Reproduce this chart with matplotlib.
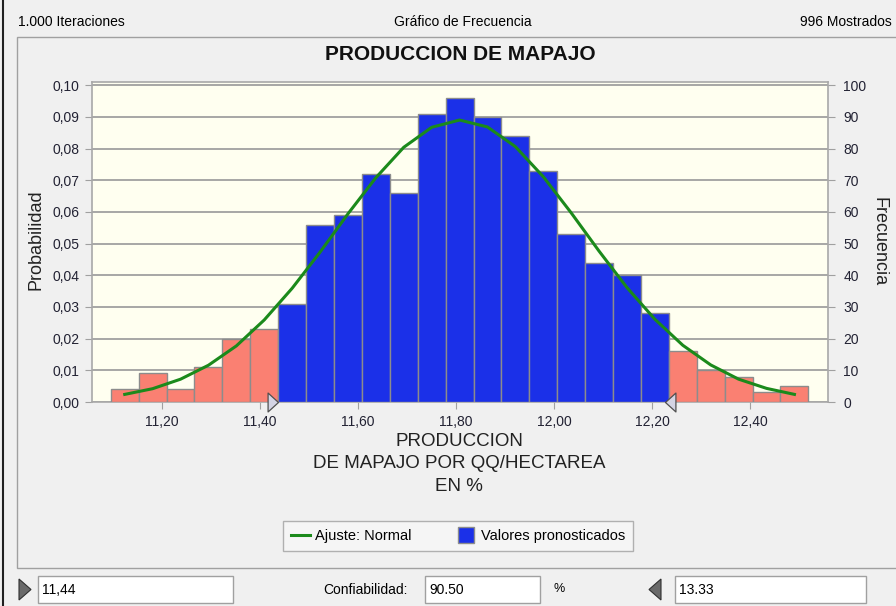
import numpy as np
import matplotlib
matplotlib.use("Agg")
import matplotlib.pyplot as plt
from matplotlib.lines import Line2D
from matplotlib.patches import Rectangle, Polygon
from matplotlib.path import Path

# ---------------- data ----------------
bin_low = 11.0953
bin_high = 12.519
counts = [4, 9, 4, 11, 20, 23, 31, 56, 59, 72, 66, 91, 96, 90, 84, 73, 53, 44, 40, 28, 16, 10, 8, 3, 5]
fit_counts = [2.4, 4.2, 7.2, 11.6, 17.7, 25.9, 35.9, 47.3, 59.4, 70.8, 80.4, 86.7, 89.0,
              86.8, 80.6, 71.1, 59.7, 47.6, 36.1, 26.1, 17.9, 11.7, 7.2, 4.3, 2.4]
lower_cert = 11.44
upper_cert = 12.235
iterations = 1000
x_ticks = [11.2, 11.4, 11.6, 11.8, 12.0, 12.2, 12.4]
prob_ticks = [0.00, 0.01, 0.02, 0.03, 0.04, 0.05, 0.06, 0.07, 0.08, 0.09, 0.10]
freq_ticks = [0, 10, 20, 30, 40, 50, 60, 70, 80, 90, 100]

W, H = 896, 606
FONT = ["Liberation Sans", "DejaVu Sans"]
plt.rcParams["font.family"] = FONT

def fx(px):
    return px / W

def fy(py):
    return 1 - py / H

fig = plt.figure(figsize=(W / 100, H / 100), dpi=100, facecolor="#f0f0f0")

# window frame / panel
fig.add_artist(Rectangle((fx(2.5), 0), 0, 1, transform=fig.transFigure, lw=1.5,
                         edgecolor="#202020", facecolor="none"))
fig.add_artist(Rectangle((fx(17), fy(568)), fx(900) - fx(17), fy(37) - fy(568),
                         transform=fig.transFigure, lw=1.0, edgecolor="#a0a0a0",
                         facecolor="#f0f0f0", zorder=0))

# header
fig.text(fx(18), fy(22), "1.000 Iteraciones", fontsize=10, va="center", ha="left")
fig.text(fx(463), fy(22), "Gráfico de Frecuencia", fontsize=10, va="center", ha="center")
fig.text(fx(892), fy(22), f"{sum(counts)} Mostrados", fontsize=10, va="center", ha="right")
fig.text(fx(460), fy(55), "PRODUCCION DE MAPAJO", fontsize=15, fontweight="bold",
         va="center", ha="center", color="#111111")

# axes
ax = fig.add_axes([fx(92), fy(402), fx(828) - fx(92), fy(82) - fy(402)])
ax.set_facecolor("#fffff0")
edges = np.linspace(bin_low, bin_high, len(counts) + 1)
centers = (edges[:-1] + edges[1:]) / 2
bw = edges[1] - edges[0]
ax.set_xlim(11.057, 12.559)
ax.set_ylim(0, 0.101)
ax.set_yticks(prob_ticks)
ax.set_yticklabels([f"{v:.2f}".replace(".", ",") for v in prob_ticks])
ax.set_xticks(x_ticks)
ax.set_xticklabels([f"{v:.2f}".replace(".", ",") for v in x_ticks])
ax.yaxis.grid(True, color="#a0a0a0", lw=1.3)
ax.set_axisbelow(True)
for s in ax.spines.values():
    s.set_color("#a8a8a8")
    s.set_linewidth(1.2)
ax.tick_params(axis="both", direction="out", length=5, color="#a0a0a0",
               labelsize=10, labelcolor="#222233", pad=4)

ax2 = ax.twinx()
ax2.set_ylim(0, iterations * 0.101)
ax2.set_yticks(freq_ticks)
ax2.tick_params(axis="y", direction="out", length=5, color="#a0a0a0",
                labelsize=10, labelcolor="#222233", pad=6)
for s in ax2.spines.values():
    s.set_visible(False)

colors = ["#1b30e8" if (c > lower_cert and c < upper_cert) else "#fa8072" for c in centers]
ax2.bar(centers, counts, width=bw, color=colors, edgecolor="#8c8c8c", lw=1.0, zorder=2)
ax2.plot(centers, fit_counts, color="#1b8a1b", lw=2.2, zorder=3)

# certainty grabbers
right_tri = Path([(0, 0), (-1.1, 1), (-1.1, -1), (0, 0)],
                 [Path.MOVETO, Path.LINETO, Path.LINETO, Path.CLOSEPOLY])
left_tri = Path([(0, 0), (1.1, 1), (1.1, -1), (0, 0)],
                [Path.MOVETO, Path.LINETO, Path.LINETO, Path.CLOSEPOLY])
ax2.plot([lower_cert - 0.004], [0], marker=right_tri, markersize=15, color="#d4d4e4",
         markeredgecolor="#505050", markeredgewidth=0.9, clip_on=False, zorder=5)
ax2.plot([upper_cert - 0.008], [0], marker=left_tri, markersize=15, color="#d4d4e4",
         markeredgecolor="#505050", markeredgewidth=0.9, clip_on=False, zorder=5)

# axis labels
fig.text(fx(36), fy(240), "Probabilidad", rotation=90, fontsize=13, va="center", ha="center",
         color="#222222")
fig.text(fx(879), fy(242), "Frecuencia", rotation=270, fontsize=13, va="center", ha="center",
         color="#222222")
fig.text(fx(459), fy(464), "PRODUCCION\nDE MAPAJO POR QQ/HECTAREA\nEN %", fontsize=13.5,
         va="center", ha="center", linespacing=1.42, color="#222222")

# legend
handles = [Line2D([0], [0], color="#1b8a1b", lw=2.2),
           Line2D([0], [0], color="none", marker="s", markersize=12,
                  markerfacecolor="#1b30e8", markeredgecolor="#8c8c8c")]
leg = fig.legend(handles, ["Ajuste: Normal", "Valores pronosticados"], ncol=2,
                 loc="center", bbox_to_anchor=(fx(458), fy(536)), fontsize=10.5,
                 frameon=True, fancybox=False, facecolor="#f7f7f7", edgecolor="#a0a0a0",
                 handlelength=1.3, handletextpad=0.35, columnspacing=3.1, borderpad=0.55)
leg.get_frame().set_linewidth(1.0)

# bottom controls
def box(x0, x1, text):
    fig.add_artist(Rectangle((fx(x0), fy(603)), fx(x1) - fx(x0), fy(576) - fy(603),
                             transform=fig.transFigure, lw=1.0, edgecolor="#a0a0a0",
                             facecolor="white"))
    fig.text(fx(x0 + 4), fy(589.5), text, fontsize=10, va="center", ha="left")

box(38, 233, f"{lower_cert:.2f}".replace(".", ","))
box(425, 540, "90.50")
box(675, 866, "13.33")
fig.text(fx(408), fy(589.5), "Confiabilidad:", fontsize=10, va="center", ha="right")
fig.text(fx(553), fy(589.5), "%", fontsize=9, va="center", ha="left")
fig.add_artist(Polygon([(fx(19), fy(579)), (fx(31), fy(589.5)), (fx(19), fy(600))], closed=True,
                       transform=fig.transFigure, facecolor="#6a6a6a", edgecolor="#303030", lw=0.8))
fig.add_artist(Polygon([(fx(661), fy(579)), (fx(649), fy(589.5)), (fx(661), fy(600))], closed=True,
                       transform=fig.transFigure, facecolor="#6a6a6a", edgecolor="#303030", lw=0.8))

fig.savefig("out.png", dpi=100, facecolor=fig.get_facecolor())
